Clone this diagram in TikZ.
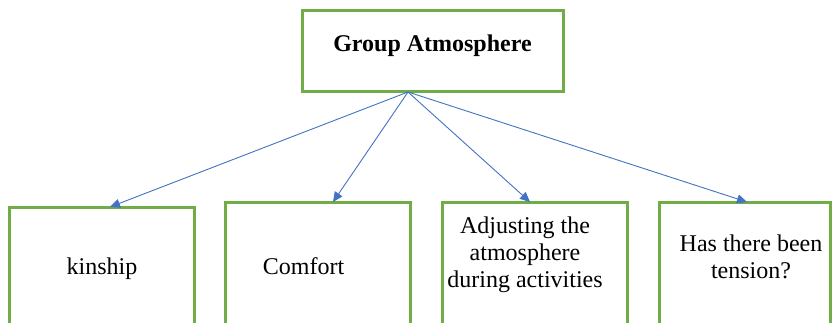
\documentclass[tikz,border=0pt]{standalone}
\usepackage{fontspec}
\setmainfont{Liberation Serif}
\usetikzlibrary{arrows.meta,calc}
\definecolor{boxgreen}{RGB}{112,173,71}
\definecolor{linkblue}{RGB}{68,114,196}
\tikzset{
  box/.style={draw=boxgreen, line width=3pt, fill=white, rectangle, inner sep=0pt},
  lbl/.style={font=\fontsize{24}{27}\selectfont, align=center, inner sep=0pt, text=black},
  link/.style={draw=linkblue, line width=0.9pt, -{Triangle[length=10pt,width=9pt]}}
}
\begin{document}
\begin{tikzpicture}[x=1pt,y=-1pt]
  \useasboundingbox (0,0) rectangle (834,323);
  \clip (0,0) rectangle (834,323);
  \fill[white] (0,0) rectangle (834,323);

  % root box
  \node[box, minimum width=261pt, minimum height=81pt] (root) at (432.5,51.5) {};
  \node[lbl, font=\fontsize{24}{27}\selectfont\bfseries] (rootlbl) at (432.5,46) {Group Atmosphere};

  % child boxes (their lower edges run past the page)
  \node[box, minimum width=185pt, minimum height=140pt] (kin) at (101.5,277) {};
  \node[box, minimum width=185pt, minimum height=150pt] (com) at (317.5,277) {};
  \node[box, minimum width=185pt, minimum height=150pt] (adj) at (534.5,277) {};
  \node[box, minimum width=171pt, minimum height=150pt] (ten) at (744.5,277) {};

  \node[lbl] (kinlbl) at (102,269) {kinship};
  \node[lbl] (comlbl) at (303.5,266) {Comfort};
  \node[lbl] (adjlbl) at (525,255) {Adjusting the\\atmosphere\\during activities};
  \node[lbl] (tenlbl) at (751,257) {Has there been\\tension?};

  % connectors
  \coordinate (hub) at (408,92);
  \coordinate (kintip) at (110,207);
  \coordinate (comtip) at (333,202);
  \coordinate (adjtip) at (530,202);
  \coordinate (tentip) at (747,202);
  \draw[link] (hub) -- (kintip);
  \draw[link] (hub) -- (comtip);
  \draw[link] (hub) -- (adjtip);
  \draw[link] (hub) -- (tentip);
\end{tikzpicture}
\end{document}
